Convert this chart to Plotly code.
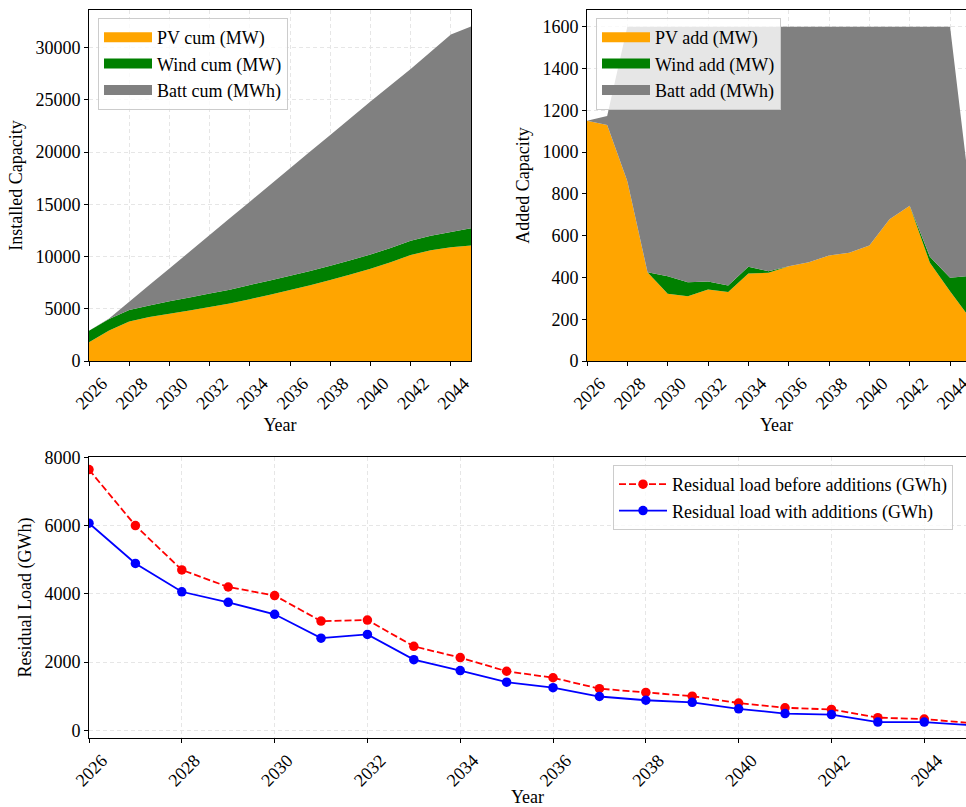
import plotly.graph_objects as go

years = list(range(2026, 2046))
xticks = list(range(2026, 2046, 2))

# Cumulative installed capacity (top-left)
pv_cum = [1790, 2920, 3780, 4200, 4520, 4830, 5170, 5500, 5920, 6340,
          6790, 7260, 7760, 8280, 8830, 9450, 10150, 10600, 10900, 11050]
wind_cum = [1100, 1100, 1100, 1105, 1190, 1255, 1295, 1325, 1355, 1365,
            1365, 1365, 1365, 1365, 1365, 1365, 1365, 1395, 1460, 1665]
batt_cum = [0, 40, 780, 1960, 3150, 4370, 5590, 6830, 7980, 9150,
            10300, 11420, 12520, 13600, 14650, 15570, 16430, 17600, 18900, 19300]

# Added capacity per year (top-right)
pv_add = [1150, 1130, 860, 425, 322, 310, 342, 330, 419, 422,
          454, 473, 505, 518, 553, 678, 743, 470, 334, 203]
wind_add = [0, 0, 0, 0, 84, 67, 38, 31, 32, 8,
            0, 0, 0, 0, 0, 0, 0, 29, 64, 205]
batt_add = [0, 43, 740, 1175, 1194, 1223, 1220, 1239, 1149, 1170,
            1146, 1127, 1095, 1082, 1047, 922, 857, 1101, 1202, 382]

# Residual load (bottom)
res_before = [7640, 6000, 4700, 4200, 3950, 3200, 3230, 2460, 2130, 1730,
              1540, 1220, 1110, 1000, 800, 660, 610, 370, 330, 210]
res_with = [6070, 4890, 4060, 3750, 3400, 2700, 2810, 2070, 1750, 1410,
            1250, 990, 880, 820, 630, 490, 460, 240, 240, 150]

ORANGE = "#FFA500"
GREEN = "#008000"
GREY = "#808080"
FONT = "Liberation Serif, Times New Roman, serif"
W, H = 966, 807

fig = go.Figure()


def add_stack(series, group, xa, ya, lg):
    for name, vals, col in series:
        fig.add_trace(go.Scatter(x=years, y=vals, name=name, mode="none",
                                 stackgroup=group, fillcolor=col, showlegend=False,
                                 xaxis=xa, yaxis=ya))
    # legend swatches (rectangular patches like the original)
    for name, vals, col in series:
        fig.add_trace(go.Scatter(x=[None], y=[None], name=name, mode="lines",
                                 line=dict(color=col, width=12),
                                 xaxis=xa, yaxis=ya, legend=lg))


add_stack([("PV cum (MW)", pv_cum, ORANGE),
           ("Wind cum (MW)", wind_cum, GREEN),
           ("Batt cum (MWh)", batt_cum, GREY)], "cum", "x", "y", "legend")
add_stack([("PV add (MW)", pv_add, ORANGE),
           ("Wind add (MW)", wind_add, GREEN),
           ("Batt add (MWh)", batt_add, GREY)], "add", "x2", "y2", "legend2")

fig.add_trace(go.Scatter(x=years, y=res_before, name="Residual load before additions (GWh)",
                         mode="lines+markers", line=dict(color="#FF0000", width=1.8, dash="7px,3px"),
                         marker=dict(color="#FF0000", size=9.5),
                         xaxis="x3", yaxis="y3", legend="legend3"))
fig.add_trace(go.Scatter(x=years, y=res_with, name="Residual load with additions (GWh)",
                         mode="lines+markers", line=dict(color="#0000FF", width=1.8),
                         marker=dict(color="#0000FF", size=9.5),
                         xaxis="x3", yaxis="y3", legend="legend3"))


def px_x(p):
    return p / W


def px_y(p):
    return 1 - p / H


axis_common = dict(showline=True, linecolor="black", linewidth=1,
                   ticks="outside", ticklen=4, tickwidth=1, tickcolor="black",
                   showgrid=True, gridcolor="#e6e6e6", griddash="4px,3px", gridwidth=1,
                   zeroline=False, automargin=False,
                   tickfont=dict(family=FONT, size=18, color="black"),
                   title_font=dict(family=FONT, size=18, color="black"))

xcommon = dict(axis_common, tickmode="array", tickvals=xticks, tickformat="d",
               tickangle=-45, ticklabelshift=13, ticklabeloverflow="allow",
               title_text="Year", title_standoff=6)

legend_common = dict(xanchor="left", yanchor="top",
                     bgcolor="rgba(255,255,255,0.8)", bordercolor="#cccccc", borderwidth=1,
                     font=dict(family=FONT, size=18, color="black"), traceorder="normal",
                     itemwidth=48)

top_dom_y = [px_y(361), px_y(10)]
fig.update_layout(
    width=W, height=H,
    margin=dict(l=0, r=0, t=0, b=0),
    paper_bgcolor="white", plot_bgcolor="white",
    font=dict(family=FONT, size=18, color="black"),
    xaxis=dict(xcommon, domain=[px_x(89), px_x(471)], anchor="y", range=[2026, 2045], mirror=True),
    yaxis=dict(axis_common, domain=top_dom_y, anchor="x", range=[0, 33600], dtick=5000,
               tickformat="d", title_text="Installed Capacity", mirror=True, title_standoff=8),
    xaxis2=dict(xcommon, domain=[px_x(587), 1.0], anchor="y2", range=[2026, 2044.79], mirror=True),
    yaxis2=dict(axis_common, domain=top_dom_y, anchor="x2", range=[0, 1680], dtick=200,
                tickformat="d", title_text="Added Capacity", mirror=False, title_standoff=8),
    xaxis3=dict(xcommon, domain=[px_x(89), 1.0], anchor="y3", range=[2026, 2044.9], mirror=True),
    yaxis3=dict(axis_common, domain=[px_y(738), px_y(457)], anchor="x3", range=[-226, 8010],
                dtick=2000, tickformat="d", title_text="Residual Load (GWh)", mirror=False,
                title_standoff=8),
    legend=dict(legend_common, x=px_x(98), y=px_y(18)),
    legend2=dict(legend_common, x=px_x(596), y=px_y(18)),
    legend3=dict(legend_common, x=px_x(613), y=px_y(465)),
    showlegend=True,
)

fig.write_html("out.html")
